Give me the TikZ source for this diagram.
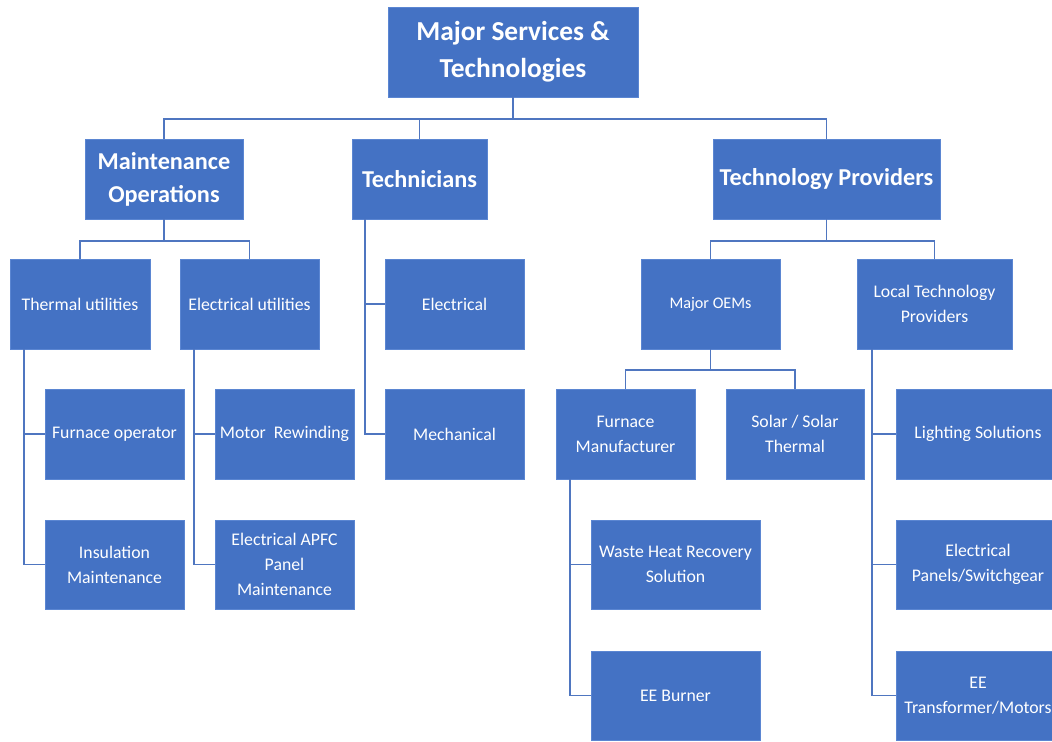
\documentclass[tikz,border=0pt]{standalone}
\usepackage{fontspec}
\setmainfont{Carlito}
\usepackage{tikz}
\definecolor{boxblue}{HTML}{4472C4}
\definecolor{boxedge}{HTML}{5B86D2}
\definecolor{linkblue}{HTML}{4F76C0}

\begin{document}
\begin{tikzpicture}[x=0.02cm,y=-0.02cm,
  box/.style={draw=boxedge,fill=boxblue,text=white,align=center,inner sep=0pt,line width=0.4pt,
    minimum width=2.78cm,minimum height=1.8cm,font=\fontsize{10.1}{14.2}\selectfont},
  top/.style={box,minimum height=1.6cm,font=\bfseries\fontsize{13.8}{18.7}\selectfont},
  link/.style={draw=linkblue,line width=1pt}]
\useasboundingbox (0,0) rectangle (1052,742);
\clip (0,0) rectangle (1052,742);
\node[box,minimum width=5cm,font=\bfseries\fontsize{15.6}{21}\selectfont] (root) at (513,52) {Major Services \&\\Technologies};
\node[top,minimum width=3.16cm] (maint) at (164,179) {Maintenance\\Operations};
\node[top,minimum width=2.7cm] (tech) at (419.5,179) {Technicians};
\node[top,minimum width=4.54cm] (prov) at (826.5,179) {Technology Providers};
\node[box,minimum width=2.8cm] (thermal) at (80,304) {Thermal utilities};
\node[box] (elec) at (249.5,304) {Electrical utilities};
\node[box] (furnop) at (114.5,434) {Furnace operator};
\node[box] (motor) at (284.5,434) {Motor~~Rewinding};
\node[box,minimum height=1.78cm] (insul) at (114.5,564.5) {Insulation\\Maintenance};
\node[box,minimum height=1.78cm] (apfc) at (284.5,564.5) {Electrical APFC\\Panel\\Maintenance};
\node[box] (telec) at (454.5,304) {Electrical};
\node[box] (mech) at (454.5,434) {Mechanical};
\node[box,font=\fontsize{9.2}{12}\selectfont] (oems) at (710.5,304) {Major OEMs};
\node[box,minimum width=3.1cm] (local) at (934.5,304) {Local Technology\\Providers};
\node[box] (furnman) at (625.5,434) {Furnace\\Manufacturer};
\node[box,minimum width=2.76cm] (solar) at (795,434) {Solar / Solar\\Thermal};
\node[box,minimum width=3.38cm,minimum height=1.78cm] (waste) at (675.5,564.5) {Waste Heat Recovery\\Solution};
\node[box,minimum width=3.38cm,minimum height=1.78cm] (burner) at (675.5,695.5) {EE Burner};
\node[box,minimum width=3.28cm] (light) at (978,434) {Lighting Solutions};
\node[box,minimum width=3.28cm,minimum height=1.78cm] (panel) at (978,564.5) {Electrical\\Panels/Switchgear};
\node[box,minimum width=3.28cm,minimum height=1.78cm] (trans) at (978,695.5) {EE\\Transformer/Motors};

\draw[link] (root.south) -- ++(0,22) -| (maint.north);
\draw[link] (root.south) -- ++(0,22) -| (tech.north);
\draw[link] (root.south) -- ++(0,22) -| (prov.north);
\draw[link] (maint.south) -- ++(0,22) -| (thermal.north);
\draw[link] (maint.south) -- ++(0,22) -| (elec.north);
\draw[link] (prov.south) -- ++(0,22) -| (oems.north);
\draw[link] (prov.south) -- ++(0,22) -| (local.north);
\draw[link] (oems.south) -- ++(0,21) -| (furnman.north);
\draw[link] (oems.south) -- ++(0,21) -| (solar.north);
\draw[link] (thermal.south west) ++(14,0) |- (furnop.west);
\draw[link] (thermal.south west) ++(14,0) |- (insul.west);
\draw[link] (elec.south west) ++(14,0) |- (motor.west);
\draw[link] (elec.south west) ++(14,0) |- (apfc.west);
\draw[link] (tech.south west) ++(13,0) |- (telec.west);
\draw[link] (tech.south west) ++(13,0) |- (mech.west);
\draw[link] (furnman.south west) ++(14,0) |- (waste.west);
\draw[link] (furnman.south west) ++(14,0) |- (burner.west);
\draw[link] (local.south west) ++(15,0) |- (light.west);
\draw[link] (local.south west) ++(15,0) |- (panel.west);
\draw[link] (local.south west) ++(15,0) |- (trans.west);
\end{tikzpicture}
\end{document}
